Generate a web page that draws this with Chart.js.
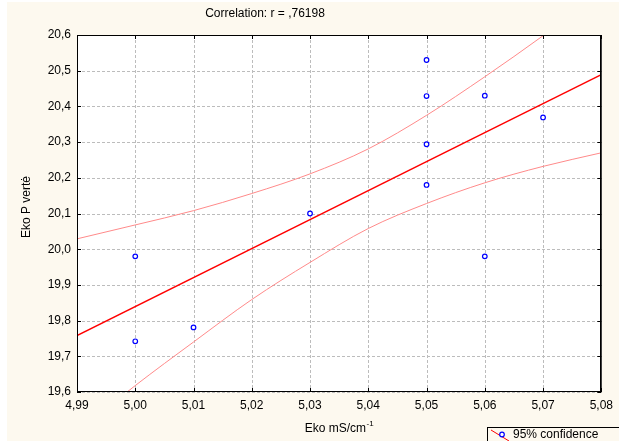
<!DOCTYPE html>
<html>
<head>
<meta charset="utf-8">
<script src="https://cdn.jsdelivr.net/npm/chart.js@4.4.1/dist/chart.umd.min.js"></script>
<style>
  html, body { margin: 0; padding: 0; background: #ffffff; }
  #wrap { position: relative; width: 619px; height: 441px; }
  canvas { display: block; }
</style>
</head>
<body>
<div id="wrap"><canvas id="c" width="619" height="441"></canvas></div>
<script>
// ---- data ----
const xValues = [5.00, 5.00, 5.01, 5.03, 5.05, 5.05, 5.05, 5.05, 5.06, 5.06, 5.07];
const yValues = [19.98, 19.742, 19.781, 20.10, 20.53, 20.429, 20.294, 20.18, 20.43, 19.98, 20.369];

const fitX = [4.99, 5.08];
const fitY = [19.758, 20.489];

const bandX     = [4.99, 5.00, 5.01, 5.02, 5.03, 5.04, 5.05, 5.06, 5.07, 5.08];
const upperBand = [20.029, 20.068, 20.108, 20.156, 20.211, 20.281, 20.375, 20.483, 20.598, 20.72];
const lowerBand = [19.487, 19.618, 19.740, 19.859, 19.963, 20.058, 20.128, 20.186, 20.232, 20.270];

const xTickValues = [4.99, 5.00, 5.01, 5.02, 5.03, 5.04, 5.05, 5.06, 5.07, 5.08];
const xTickLabels = ['4,99', '5,00', '5,01', '5,02', '5,03', '5,04', '5,05', '5,06', '5,07', '5,08'];
const yTickValues = [19.6, 19.7, 19.8, 19.9, 20.0, 20.1, 20.2, 20.3, 20.4, 20.5, 20.6];
const yTickLabels = ['19,6', '19,7', '19,8', '19,9', '20,0', '20,1', '20,2', '20,3', '20,4', '20,5', '20,6'];

const titleText = 'Correlation: r = ,76198';
const xTitle = 'Eko mS/cm';
const xTitleSup = '-1';
const yTitle = 'Eko P vertė';
const legendText = '95% confidence';

const FONT = '"Liberation Sans", Arial, sans-serif';
const CREAM = '#fdf9ef';

const zip = (xs, ys) => xs.map((x, i) => ({ x: x, y: ys[i] }));

const decorPlugin = {
  id: 'decor',
  beforeDraw(chart) {
    const ctx = chart.ctx;
    const a = chart.chartArea;
    ctx.save();
    ctx.fillStyle = CREAM;
    ctx.fillRect(7, 2, chart.width - 7, chart.height - 2);
    ctx.fillStyle = '#ffffff';
    ctx.fillRect(a.left, a.top, a.right - a.left, a.bottom - a.top);
    ctx.restore();
  },
  beforeDatasetsDraw(chart) {
    const ctx = chart.ctx;
    const a = chart.chartArea;
    const xs = chart.scales.x, ys = chart.scales.y;
    ctx.save();
    ctx.strokeStyle = '#bcbcbc';
    ctx.lineWidth = 1;
    ctx.setLineDash([3, 2]);
    ctx.beginPath();
    xTickValues.forEach(v => {
      const px = Math.round(xs.getPixelForValue(v)) + 0.5;
      ctx.moveTo(px, a.top); ctx.lineTo(px, a.bottom);
    });
    yTickValues.forEach(v => {
      const py = Math.round(ys.getPixelForValue(v)) + 0.5;
      ctx.moveTo(a.left, py); ctx.lineTo(a.right, py);
    });
    ctx.stroke();
    ctx.restore();
  },
  afterDraw(chart) {
    const ctx = chart.ctx;
    const a = chart.chartArea;
    const xs = chart.scales.x, ys = chart.scales.y;
    ctx.save();
    // frame
    ctx.strokeStyle = '#000000';
    ctx.lineWidth = 1;
    ctx.strokeRect(Math.round(a.left) + 0.5, Math.round(a.top) + 0.5,
                   Math.round(a.right - a.left) - 1, Math.round(a.bottom - a.top) - 1);
    ctx.strokeStyle = '#404040';
    ctx.beginPath();
    ctx.moveTo(Math.round(a.right) + 0.5, a.top);
    ctx.lineTo(Math.round(a.right) + 0.5, a.bottom);
    ctx.stroke();
    // inside ticks
    ctx.strokeStyle = '#000000';
    ctx.beginPath();
    const L = 4;
    xTickValues.forEach(v => {
      const px = Math.round(xs.getPixelForValue(v)) + 0.5;
      ctx.moveTo(px, a.top); ctx.lineTo(px, a.top + L);
      ctx.moveTo(px, a.bottom); ctx.lineTo(px, a.bottom - L);
    });
    yTickValues.forEach(v => {
      const py = Math.round(ys.getPixelForValue(v)) + 0.5;
      ctx.moveTo(a.left, py); ctx.lineTo(a.left + L, py);
      ctx.moveTo(a.right, py); ctx.lineTo(a.right - L, py);
    });
    ctx.stroke();

    // title
    ctx.fillStyle = '#000000';
    ctx.font = '12px ' + FONT;
    ctx.textAlign = 'center';
    ctx.textBaseline = 'middle';
    ctx.fillText(titleText, 265, 14);

    // y title
    ctx.save();
    ctx.translate(27, 207);
    ctx.rotate(-Math.PI / 2);
    ctx.font = '12px ' + FONT;
    ctx.fillText(yTitle, 0, 0);
    ctx.restore();

    // x title with superscript
    ctx.font = '12px ' + FONT;
    const w1 = ctx.measureText(xTitle).width;
    ctx.font = '8px ' + FONT;
    const w2 = ctx.measureText(xTitleSup).width;
    const startX = 339 - (w1 + w2) / 2;
    ctx.textAlign = 'left';
    ctx.font = '12px ' + FONT;
    ctx.fillText(xTitle, startX, 429);
    ctx.font = '8px ' + FONT;
    ctx.fillText(xTitleSup, startX + w1 + 0.5, 424);

    // legend box
    ctx.strokeStyle = '#000000';
    ctx.lineWidth = 1;
    ctx.fillStyle = CREAM;
    ctx.fillRect(487, 427, 140, 20);
    ctx.strokeRect(487.5, 427.5, 140, 20);
    ctx.strokeStyle = '#ff0000';
    ctx.beginPath();
    ctx.moveTo(491, 430); ctx.lineTo(509, 441);
    ctx.stroke();
    ctx.strokeStyle = '#0000ff';
    ctx.fillStyle = '#ffffff';
    ctx.lineWidth = 1.2;
    ctx.beginPath();
    ctx.arc(502, 434.5, 2.3, 0, Math.PI * 2);
    ctx.fill(); ctx.stroke();
    ctx.fillStyle = '#000000';
    ctx.font = '12px ' + FONT;
    ctx.textAlign = 'left';
    ctx.fillText(legendText, 513, 435);
    ctx.restore();
  }
};

new Chart(document.getElementById('c'), {
  type: 'scatter',
  data: {
    datasets: [
      {
        label: 'upper',
        data: zip(bandX, upperBand),
        showLine: true,
        borderColor: '#ff8a8a',
        borderWidth: 1,
        pointRadius: 0,
        cubicInterpolationMode: 'monotone',
        order: 3
      },
      {
        label: 'lower',
        data: zip(bandX, lowerBand),
        showLine: true,
        borderColor: '#ff8a8a',
        borderWidth: 1,
        pointRadius: 0,
        cubicInterpolationMode: 'monotone',
        order: 3
      },
      {
        label: 'fit',
        data: zip(fitX, fitY),
        showLine: true,
        borderColor: '#ff0000',
        borderWidth: 1.4,
        pointRadius: 0,
        order: 2
      },
      {
        label: 'points',
        data: zip(xValues, yValues),
        showLine: false,
        pointStyle: 'circle',
        pointRadius: 2.3,
        pointBorderWidth: 1.2,
        pointBorderColor: '#0000ff',
        pointBackgroundColor: '#ffffff',
        order: 1
      }
    ]
  },
  options: {
    responsive: false,
    animation: false,
    events: [],
    layout: { padding: { top: 35, right: 17, left: 0, bottom: 0 } },
    plugins: { legend: { display: false }, tooltip: { enabled: false }, title: { display: false } },
    scales: {
      x: {
        type: 'linear',
        min: 4.99, max: 5.08,
        afterFit(s) { s.height = 49; },
        afterBuildTicks(s) { s.ticks = xTickValues.map(v => ({ value: v })); },
        ticks: {
          callback: (v, i) => xTickLabels[i],
          color: '#000000',
          font: { family: FONT, size: 12 },
          padding: 6,
          maxRotation: 0,
          autoSkip: false
        },
        grid: { display: false, drawTicks: false },
        border: { display: false }
      },
      y: {
        type: 'linear',
        min: 19.6, max: 20.6,
        afterFit(s) { s.width = 77; },
        afterBuildTicks(s) { s.ticks = yTickValues.map(v => ({ value: v })); },
        ticks: {
          callback: (v, i) => yTickLabels[i],
          color: '#000000',
          font: { family: FONT, size: 12 },
          padding: 6,
          autoSkip: false
        },
        grid: { display: false, drawTicks: false },
        border: { display: false }
      }
    }
  },
  plugins: [decorPlugin]
});
</script>
</body>
</html>
